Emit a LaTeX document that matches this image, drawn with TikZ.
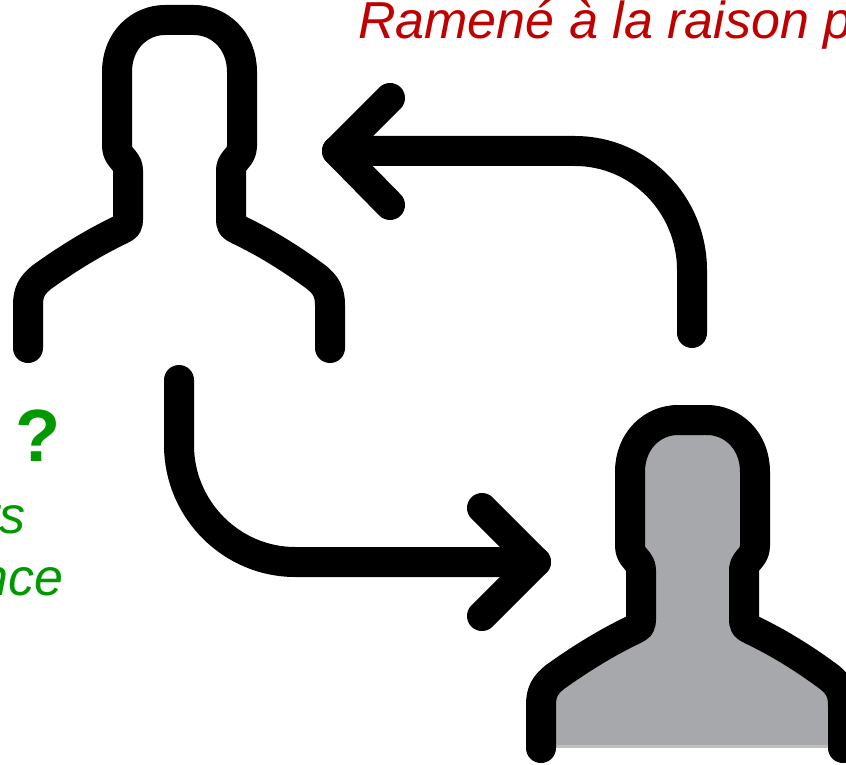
\documentclass[tikz,border=0pt]{standalone}
\usepackage{fontspec}
\setmainfont{Liberation Sans}
\definecolor{redt}{RGB}{192,0,0}
\definecolor{greent}{RGB}{0,153,0}
\definecolor{fillg}{RGB}{167,168,171}
\newcommand{\personpath}{(28,348) -- (28,305) .. controls (28,292) and (32,285) .. (42,277) .. controls (70,257) and (95,242) .. (120,230) .. controls (126,227) and (128,226) .. (128,220) -- (128,170) .. controls (128,160) and (117,158) .. (117,146) -- (117,72) .. controls (117,40) and (140,20) .. (165,20) -- (194,20) .. controls (219,20) and (242,40) .. (242,72) -- (242,146) .. controls (242,158) and (231,160) .. (231,170) -- (231,220) .. controls (231,226) and (233,227) .. (239,230) .. controls (264,242) and (289,257) .. (316,277) .. controls (326,285) and (330,292) .. (330,305) -- (330,348)}
\tikzset{x=1pt,y=-1pt,
 thick line/.style={line width=30pt,line cap=round,line join=round,black},
 redtext/.style={text=redt,font=\itshape\fontsize{52}{52}\selectfont,inner sep=0pt,anchor=base west},
 greentext/.style={text=greent,font=\itshape\fontsize{52}{52}\selectfont,inner sep=0pt,anchor=base east}}
\begin{document}
\begin{tikzpicture}
\useasboundingbox (0,0) rectangle (846,765);
\clip (0,0) rectangle (846,765);
% person 1
\draw[thick line] \personpath;
% person 2
\begin{scope}[shift={(513,400)}]
\fill[fillg] (28,346) -- \personpath{} -- (330,346) -- cycle;
\draw[gray!50,line width=3pt] (28,346) -- (330,346);
\draw[thick line] \personpath;
\end{scope}
% arrows
\coordinate (a1s) at (692,333);
\coordinate (a1e) at (337,151);
\draw[thick line] (a1s) -- (692,270) .. controls (692,205) and (640,151) .. (575,151) -- (a1e);
\draw[thick line] (390,98) -- (a1e) -- (390,205);
\coordinate (a2s) at (179,380);
\coordinate (a2e) at (536,562);
\draw[thick line] (a2s) -- (179,445) .. controls (179,510) and (232,562) .. (295,562) -- (a2e);
\draw[thick line] (482,508) -- (a2e) -- (482,616);
% texts
\node[redtext] (t1) at (358,39) {Ramené à la raison p};
\node[text=greent,font=\bfseries\fontsize{74}{74}\selectfont,inner sep=0pt,anchor=base] (q) at (38,461) {?};
\node[greentext] (t2) at (26,533) {rs};
\node[greentext] (t3) at (64,595) {nce};
\end{tikzpicture}
\end{document}
